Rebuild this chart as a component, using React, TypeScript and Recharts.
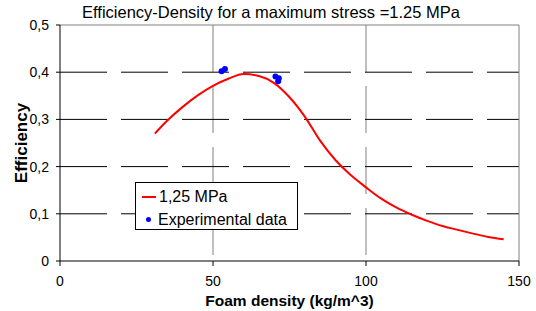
import React from 'react';
import {
  ComposedChart,
  Line,
  Scatter,
  XAxis,
  YAxis,
  CartesianGrid,
  ReferenceLine,
} from 'recharts';

const FONT = '"Liberation Sans", Arial, sans-serif';

// model curve for 1.25 MPa (density kg/m^3 -> efficiency)
const curveDensity = [31, 33, 35, 40, 45, 50, 55, 60, 65, 70, 75, 80, 85, 90, 95, 100, 105, 110, 115, 120, 125, 130, 135, 140, 145];
const curveEfficiency = [0.27, 0.284, 0.297, 0.326, 0.351, 0.371, 0.386, 0.396, 0.392, 0.377, 0.347, 0.306, 0.255, 0.214, 0.182, 0.156, 0.132, 0.113, 0.098, 0.085, 0.074, 0.066, 0.058, 0.051, 0.046];

// experimental measurements
const expDensity = [52.8, 53.9, 70.4, 71.5, 71.3];
const expEfficiency = [0.402, 0.407, 0.391, 0.387, 0.381];

const xTicks = [0, 50, 100, 150];
const yTicks = [0, 0.1, 0.2, 0.3, 0.4, 0.5];

const curve = curveDensity.map((x, i) => ({ x, y: curveEfficiency[i] }));
const points = expDensity.map((x, i) => ({ x, y: expEfficiency[i] }));

const fmtY = (v: number) => (v === 0 ? '0' : v.toFixed(1).replace('.', ','));

const LegendBox = () => (
  <div
    style={{
      position: 'absolute',
      left: 135,
      top: 182,
      width: 163,
      height: 48,
      border: '1px solid #000',
      background: '#fff',
      padding: '2px 0 0 6px',
      fontFamily: FONT,
      fontSize: 16,
      lineHeight: '23px',
      color: '#000',
      boxSizing: 'border-box',
      whiteSpace: 'nowrap',
    }}
  >
    <div style={{ display: 'flex', alignItems: 'center' }}>
      <span style={{ display: 'inline-block', width: 14, height: 2, background: '#ff0000', marginRight: 3 }} />
      1,25 MPa
    </div>
    <div style={{ display: 'flex', alignItems: 'center' }}>
      <span
        style={{ display: 'inline-block', width: 5, height: 5, borderRadius: 3, background: '#0000ff', margin: '0 7px 0 4px' }}
      />
      Experimental data
    </div>
  </div>
);

export default function App() {
  return (
    <div style={{ position: 'absolute', left: 0, top: 0, width: 536, height: 311, background: '#fff' }}>
      <ComposedChart width={536} height={311} margin={{ top: 25, right: 17, bottom: 0, left: 0 }}>
        <CartesianGrid
          horizontal={false}
          verticalValues={[50, 100]}
          stroke="#808080"
          strokeDasharray="47 14"
        />
        <CartesianGrid
          vertical={false}
          horizontalValues={[0.1, 0.2, 0.3, 0.4]}
          stroke="#000"
          strokeDasharray="47 14"
        />
        <XAxis
          type="number"
          dataKey="x"
          domain={[0, 150]}
          ticks={xTicks}
          height={50}
          tickSize={5}
          tickMargin={10}
          axisLine={{ stroke: '#000' }}
          tickLine={{ stroke: '#000' }}
          tick={{ fill: '#000', fontSize: 14, fontFamily: FONT }}
          label={{
            value: 'Foam density (kg/m^3)',
            position: 'insideBottom',
            offset: 5,
            fill: '#000',
            fontSize: 15.5,
            fontWeight: 'bold',
            fontFamily: FONT,
          }}
        />
        <YAxis
          type="number"
          dataKey="y"
          domain={[0, 0.5]}
          ticks={yTicks}
          width={60}
          tickSize={4}
          tickMargin={7}
          tickFormatter={fmtY}
          axisLine={{ stroke: '#000' }}
          tickLine={{ stroke: '#000' }}
          tick={{ fill: '#000', fontSize: 14, fontFamily: FONT }}
          label={{
            value: 'Efficiency',
            angle: -90,
            position: 'insideLeft',
            offset: 21,
            fill: '#000',
            fontSize: 17,
            fontWeight: 'bold',
            fontFamily: FONT,
            style: { textAnchor: 'middle' },
          }}
        />
        <ReferenceLine y={0.5} stroke="#808080" />
        <ReferenceLine x={150} stroke="#808080" />
        <Line
          data={curve}
          dataKey="y"
          type="monotone"
          stroke="#ff0000"
          strokeWidth={2}
          dot={false}
          isAnimationActive={false}
        />
        <Scatter
          data={points}
          dataKey="y"
          fill="#0000ff"
          shape={(p: any) => <circle cx={p.cx} cy={p.cy} r={3} fill="#0000ff" />}
          isAnimationActive={false}
        />
      </ComposedChart>
      <div
        style={{
          position: 'absolute',
          left: 0,
          width: 542,
          top: 3,
          textAlign: 'center',
          fontFamily: FONT,
          fontSize: 16.5,
          color: '#000',
          whiteSpace: 'nowrap',
        }}
      >
        Efficiency-Density for a maximum stress =1.25 MPa
      </div>
      <LegendBox />
    </div>
  );
}
